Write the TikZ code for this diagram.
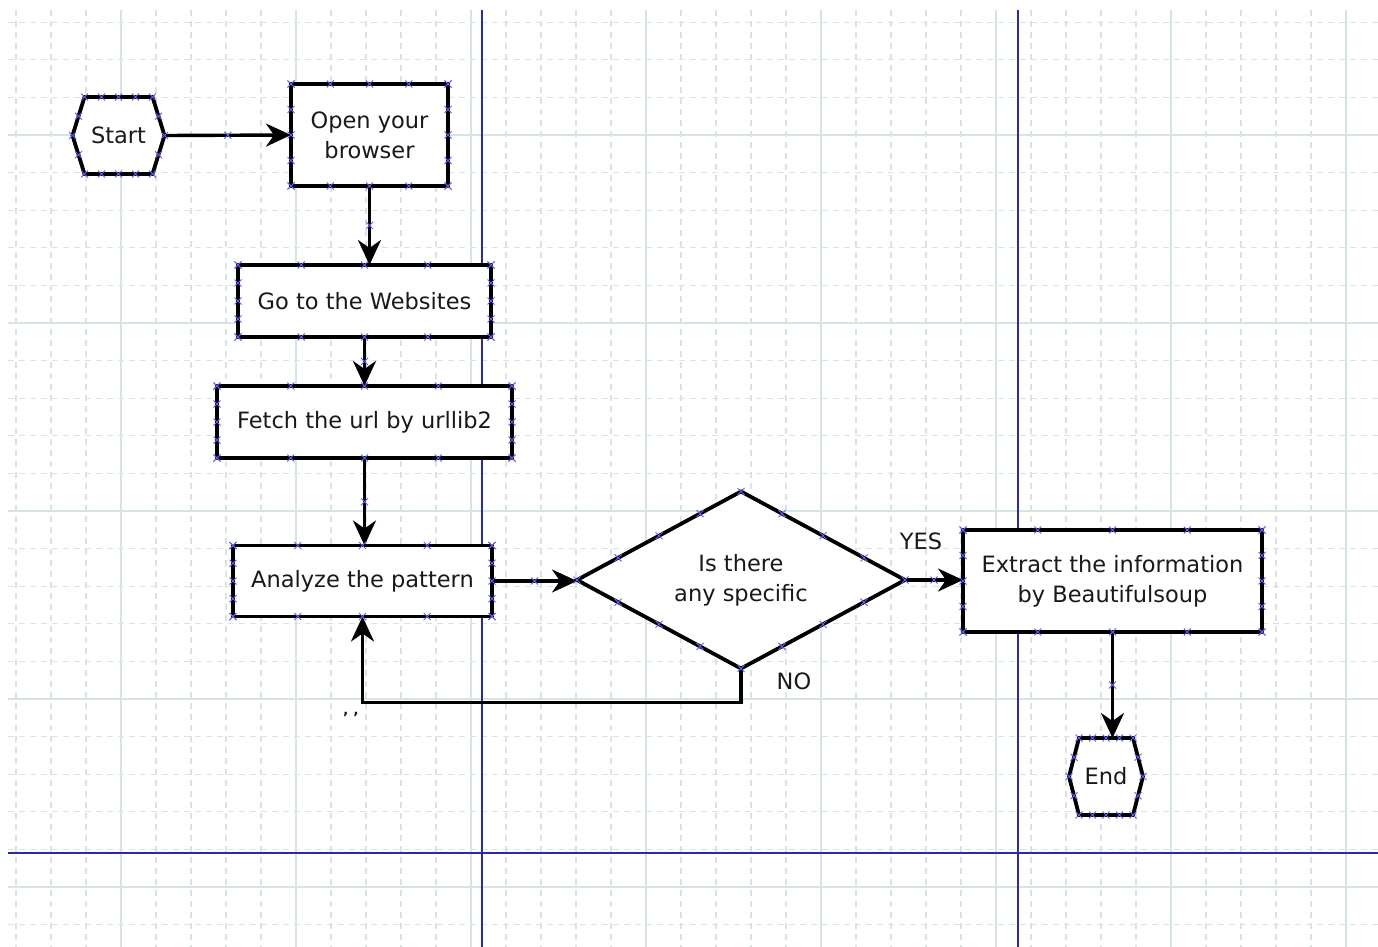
\documentclass[tikz,border=0pt]{standalone}
\usepackage{fontspec}
\setmainfont{DejaVu Sans}
\usetikzlibrary{arrows.meta,calc}
\definecolor{gridc}{HTML}{D6E4E4}
\definecolor{laneblue}{HTML}{2B2B9E}
\definecolor{mkblue}{HTML}{6060F0}
\pgfdeclarelayer{bg}
\pgfdeclarelayer{shp}
\pgfsetlayers{bg,shp,main}
\tikzset{
  txt/.style={font=\fontsize{22.5}{30}\selectfont, text=black!90},
  box/.style={txt, inner sep=0pt, outer sep=0pt, align=center},
  outline/.style={draw=black, line width=3.8pt, fill=white, line join=miter},
  conn/.style={line width=3.4pt, -{Stealth[length=25pt,width=23pt,inset=8pt]}},
  mk/.style={draw=mkblue, line width=0.9pt},
  minorline/.style={draw=gridc, line width=1.3pt, dash pattern=on 6pt off 5pt},
  majorline/.style={draw=gridc, line width=1.3pt},
  lane/.style={draw=laneblue, line width=2pt},
  lbl/.style={txt, inner sep=0pt},
}
\newcommand\mkat[1]{\draw[mk] (#1) ++(-3.5pt,-3.5pt) -- ++(7pt,7pt) ++(-7pt,0pt) -- ++(7pt,-7pt);}
\newcommand\rectmarks[1]{%
  \foreach \f in {0,0.25,0.5,0.75,1}{%
    \mkat{$(#1.north west)!\f!(#1.north east)$}
    \mkat{$(#1.south west)!\f!(#1.south east)$}
    \mkat{$(#1.north west)!\f!(#1.south west)$}
    \mkat{$(#1.north east)!\f!(#1.south east)$}
  }}
\newcommand\hexoutline[2]{%
  \draw[outline] (#1.west) -- ([xshift=#2]#1.north west) -- ([xshift=-#2]#1.north east)
     -- (#1.east) -- ([xshift=-#2]#1.south east) -- ([xshift=#2]#1.south west) -- cycle;}
\newcommand\hexmarks[2]{%
  \foreach \f in {0,0.25,0.5,0.75,1}{%
    \mkat{$([xshift=#2]#1.north west)!\f!([xshift=-#2]#1.north east)$}
    \mkat{$([xshift=#2]#1.south west)!\f!([xshift=-#2]#1.south east)$}
  }
  \mkat{#1.west}\mkat{#1.east}
  \mkat{$(#1.west)!0.5!([xshift=#2]#1.north west)$}
  \mkat{$(#1.west)!0.5!([xshift=#2]#1.south west)$}
  \mkat{$(#1.east)!0.5!([xshift=-#2]#1.north east)$}
  \mkat{$(#1.east)!0.5!([xshift=-#2]#1.south east)$}}
\begin{document}
\begin{tikzpicture}[x=1pt,y=-1pt]
\useasboundingbox (0,0) rectangle (1378,947);
% grid
\begin{pgfonlayer}{bg}
\fill[white] (0,0) rectangle (1378,947);
\begin{scope}
\clip (8,10) rectangle (1378,947);
\foreach \i in {0,...,38}{\draw[minorline] ({16+35*\i},10) -- ({16+35*\i},947);}
\foreach \j in {0,...,24}{\draw[minorline] (8,{22.2+37.6*\j}) -- (1378,{22.2+37.6*\j});}
\foreach \i in {0,...,7}{\draw[majorline] ({121+175*\i},10) -- ({121+175*\i},947);}
\foreach \j in {0,...,4}{\draw[majorline] (8,{135+188*\j}) -- (1378,{135+188*\j});}
\end{scope}
\draw[lane] (482,10) -- (482,947);
\draw[lane] (1018,10) -- (1018,947);
\draw[lane] (8,853) -- (1378,853);
\end{pgfonlayer}

% nodes
\node[box, minimum width=92pt, minimum height=77pt] (st) at (118.5,135.5) {Start};
\node[box, minimum width=157pt, minimum height=102pt] (op) at (369.5,135) {Open your\\browser};
\node[box, minimum width=253pt, minimum height=72pt] (go) at (364.5,301) {Go to the Websites};
\node[box, minimum width=295pt, minimum height=72pt] (fe) at (364.5,422) {Fetch the url by urllib2};
\node[box, minimum width=259pt, minimum height=71pt] (an) at (362.5,581) {Analyze the pattern};
\node[box, minimum width=328pt, minimum height=177pt] (dq) at (741,580) {Is there\\any specific};
\node[box, minimum width=299pt, minimum height=102pt] (ex) at (1112.5,581) {Extract the information\\by Beautifulsoup};
\node[box, minimum width=74pt, minimum height=77pt] (en) at (1106,776.5) {End};

\begin{pgfonlayer}{shp}
\hexoutline{st}{12pt}
\hexoutline{en}{10pt}
\foreach \n in {op,go,fe,an,ex}{\draw[outline] (\n.north west) rectangle (\n.south east);}
\draw[outline] (dq.north) -- (dq.east) -- (dq.south) -- (dq.west) -- cycle;
\end{pgfonlayer}

% connectors
\draw[conn] (st.east) -- (op.west);
\draw[conn] (op.south) -- (op.south |- go.north);
\draw[conn] (go.south) -- (go.south |- fe.north);
\draw[conn] (fe.south) -- (fe.south |- an.north);
\draw[conn] (an.east) -- (an.east -| dq.west);
\draw[conn] (dq.east) -- (dq.east -| ex.west);
\draw[conn] (dq.south) -- ++(0,34) -| (an.south);
\draw[conn] (ex.south) -- (ex.south |- en.north);

\node[lbl] (yes) at (921,541) {YES};
\node[lbl] (no) at (794,681) {NO};
\node[lbl, font=\fontsize{14}{14}\selectfont\bfseries] (qq) at (351,717) {’ ’};

% connection markers
\hexmarks{st}{12pt}
\hexmarks{en}{10pt}
\foreach \n in {op,go,fe,an,ex}{\rectmarks{\n}}
\foreach \a/\b in {north/east,east/south,south/west,west/north}{%
  \foreach \f in {0,0.25,0.5,0.75}{\mkat{$(dq.\a)!\f!(dq.\b)$}}}
\mkat{$(st.east)!0.5!(op.west)$}
\mkat{$(op.south)!0.5!(op.south |- go.north)$}
\mkat{$(go.south)!0.5!(go.south |- fe.north)$}
\mkat{$(fe.south)!0.5!(fe.south |- an.north)$}
\mkat{$(an.east)!0.5!(an.east -| dq.west)$}
\mkat{$(dq.east)!0.5!(dq.east -| ex.west)$}
\mkat{$(ex.south)!0.5!(ex.south |- en.north)$}
\end{tikzpicture}
\end{document}
